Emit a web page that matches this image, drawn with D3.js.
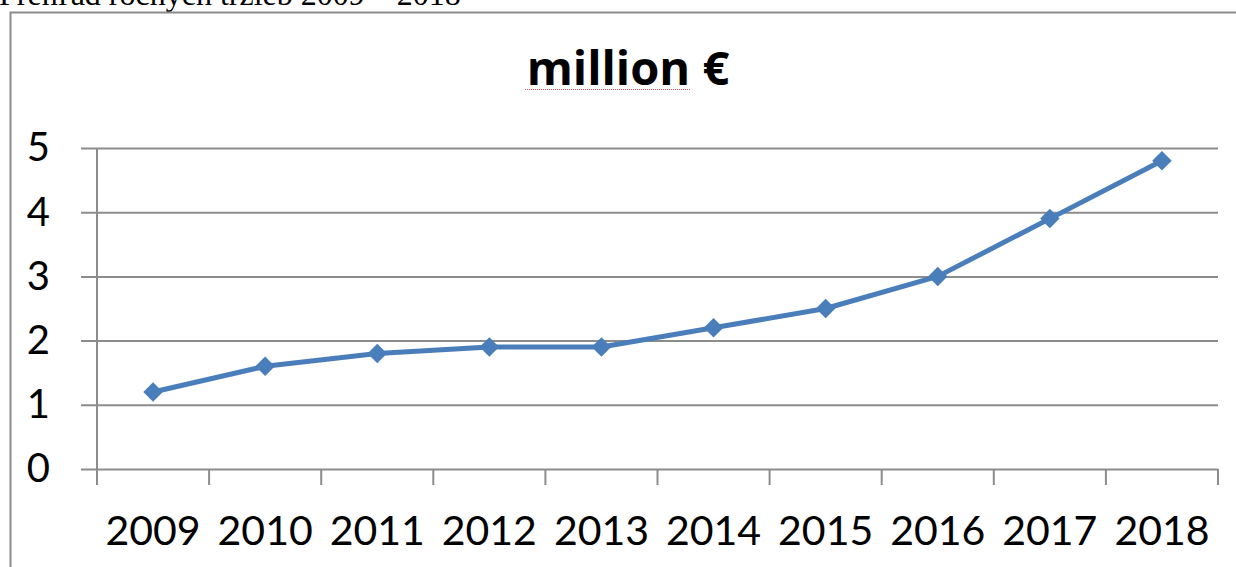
<!DOCTYPE html>
<html lang="sk">
<head>
  <meta charset="UTF-8">
  <title>million €</title>
  <script src="https://cdn.jsdelivr.net/npm/d3@7"></script>
  <style>
    html, body { margin: 0; padding: 0; background: #fff; overflow: hidden; }
  </style>
</head>
<body>
<script>
  const years = ['2009', '2010', '2011', '2012', '2013', '2014', '2015', '2016', '2017', '2018']
  const revenue = [1.2, 1.6, 1.8, 1.9, 1.9, 2.2, 2.5, 3.0, 3.9, 4.8]
  const yTicks = [0, 1, 2, 3, 4, 5]
  const caption = 'Prehľad ročných tržieb 2009 – 2018'
  const title = 'million €'

  const width = 1236
  const height = 567
  const margin = {top: 148, right: 18, bottom: 98, left: 97}
  const blue = '#4a7ebb'
  const grid = '#8c8c8c'
  const font = 'Lato, "Open Sans", sans-serif'

  const svg = d3.select('body').append('svg')
    .attr('width', width)
    .attr('height', height)

  // caption cut off above the chart, as in the source
  svg.append('text')
    .attr('x', -1)
    .attr('y', 5)
    .attr('font-family', '"Liberation Serif", "Times New Roman", serif')
    .attr('font-size', 32)
    .text(caption)

  // chart frame (runs past the right and bottom edge)
  svg.append('rect')
    .attr('x', 10.5)
    .attr('y', 12.5)
    .attr('width', width + 20)
    .attr('height', height + 20)
    .attr('fill', 'none')
    .attr('stroke', grid)
    .attr('stroke-width', 2)

  const x = d3.scaleBand()
    .domain(years)
    .range([margin.left, width - margin.right])

  const y = d3.scaleLinear()
    .domain([0, 5])
    .range([height - margin.bottom, margin.top])

  // title
  svg.append('text')
    .attr('x', 628)
    .attr('y', 85)
    .attr('text-anchor', 'middle')
    .attr('font-family', '"Open Sans", sans-serif')
    .attr('font-weight', 'bold')
    .attr('font-size', 47)
    .text(title)

  // spell-check squiggle under "million"
  svg.append('line')
    .attr('x1', 525).attr('x2', 690)
    .attr('y1', 89.5).attr('y2', 89.5)
    .attr('stroke', '#e06060')
    .attr('stroke-width', 1)
    .attr('stroke-dasharray', '1,1')

  // horizontal gridlines + y axis
  const yAxis = d3.axisLeft(y)
    .tickValues(yTicks)
    .tickFormat(d3.format('d'))
    .tickSize(-(width - margin.right - margin.left))
    .tickPadding(47)
  svg.append('g')
    .attr('transform', `translate(${margin.left},0)`)
    .call(yAxis)
    .call(g => g.select('.domain').remove())
    .call(g => g.selectAll('.tick line')
      .attr('x1', -16)
      .attr('stroke', grid)
      .attr('stroke-width', 2))
    .call(g => g.selectAll('.tick text')
      .attr('font-family', font)
      .attr('font-size', 40)
      .attr('fill', '#000'))

  // vertical axis line
  svg.append('line')
    .attr('x1', margin.left).attr('x2', margin.left)
    .attr('y1', y(5)).attr('y2', y(0) + 16)
    .attr('stroke', grid)
    .attr('stroke-width', 2)

  // x axis ticks at category boundaries
  const bounds = years.map(d => x(d)).concat([x.range()[1]])
  svg.append('g')
    .selectAll('line')
    .data(bounds)
    .join('line')
    .attr('x1', d => d).attr('x2', d => d)
    .attr('y1', y(0)).attr('y2', y(0) + 16)
    .attr('stroke', grid)
    .attr('stroke-width', 2)

  svg.append('g')
    .attr('font-family', font)
    .attr('font-size', 41)
    .attr('text-anchor', 'middle')
    .selectAll('text')
    .data(years)
    .join('text')
    .attr('x', d => x(d) + x.bandwidth() / 2)
    .attr('y', 545)
    .text(d => d)

  const points = years.map((d, i) => [x(d) + x.bandwidth() / 2, y(revenue[i])])

  svg.append('path')
    .attr('d', d3.line()(points))
    .attr('fill', 'none')
    .attr('stroke', blue)
    .attr('stroke-width', 5)
    .attr('stroke-linejoin', 'round')

  svg.append('g')
    .attr('fill', blue)
    .selectAll('path')
    .data(points)
    .join('path')
    .attr('d', d3.symbol(d3.symbolSquare, 190))
    .attr('transform', d => `translate(${d}) rotate(45)`)
</script>
</body>
</html>
